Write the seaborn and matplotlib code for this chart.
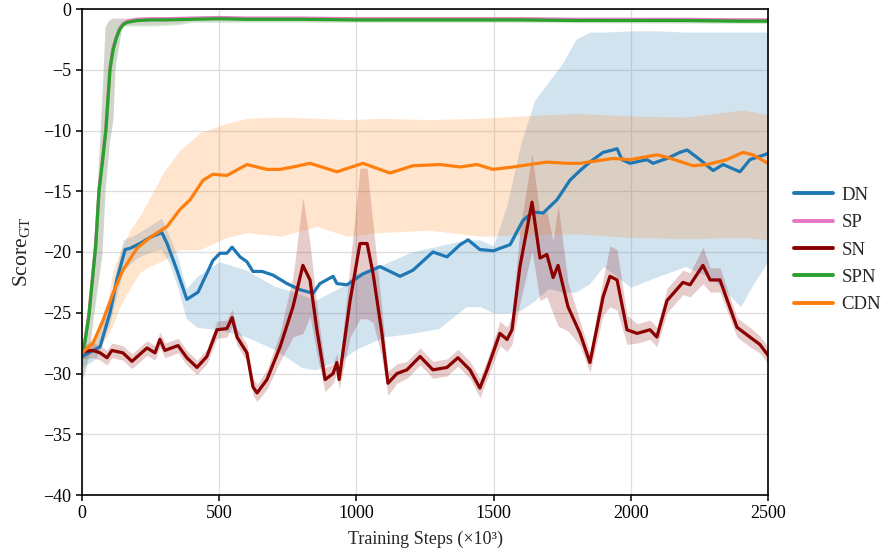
import numpy as np
import pandas as pd
import matplotlib
matplotlib.use("Agg")
import matplotlib.pyplot as plt
import seaborn as sns

# ---------------- data ----------------
series_names = ["DN", "SP", "SN", "SPN", "CDN"]

dn_x = [0, 66, 102, 127, 157, 175, 211, 248, 291, 310, 346, 382, 423, 477, 503, 528, 547, 576,
        601, 623, 656, 696, 747, 794, 842, 867, 915, 929, 966, 1024, 1086, 1159, 1206, 1279,
        1330, 1378, 1407, 1450, 1500, 1523, 1560, 1607, 1644, 1680, 1717, 1731, 1778, 1815,
        1851, 1899, 1935, 1950, 1968, 1997, 2059, 2081, 2132, 2179, 2205, 2252, 2300, 2336,
        2398, 2434, 2500]
dn_y = [-28.6, -27.8, -25.0, -22.3, -19.8, -19.7, -19.3, -18.8, -18.4, -19.3, -21.5, -23.9,
        -23.3, -20.7, -20.1, -20.1, -19.6, -20.4, -20.8, -21.6, -21.6, -21.9, -22.6, -23.1,
        -23.4, -22.6, -22.0, -22.6, -22.7, -21.8, -21.2, -22.0, -21.5, -20.0, -20.4, -19.4,
        -19.0, -19.8, -19.9, -19.7, -19.4, -17.4, -16.7, -16.8, -16.0, -15.7, -14.1, -13.3,
        -12.6, -11.8, -11.6, -11.5, -12.4, -12.7, -12.4, -12.7, -12.3, -11.8, -11.6, -12.4,
        -13.3, -12.8, -13.4, -12.4, -11.9]
dn_band_x = [0, 50, 100, 150, 200, 250, 290, 320, 350, 380, 420, 500, 600, 700, 800, 850, 950,
             1000, 1100, 1200, 1300, 1400, 1450, 1500, 1550, 1600, 1650, 1700, 1750, 1800, 1850,
             1900, 2000, 2100, 2200, 2300, 2400, 2450, 2500]
dn_lo = [-29.5, -28.8, -26.0, -21.5, -20.5, -20.0, -19.8, -21.0, -23.0, -25.5, -26.2, -26.4,
         -27.0, -28.0, -29.5, -29.7, -28.8, -28.0, -27.0, -26.7, -26.3, -24.5, -24.5, -25.0,
         -25.0, -24.8, -24.0, -23.0, -23.3, -23.3, -22.6, -21.2, -22.9, -22.0, -21.2, -22.2,
         -24.5, -22.5, -20.8]
dn_hi = [-28.0, -27.0, -24.0, -19.0, -18.5, -17.8, -17.2, -18.8, -20.5, -23.0, -22.0, -20.8,
         -21.5, -22.8, -23.5, -24.0, -22.8, -21.8, -21.0, -20.0, -19.5, -19.0, -19.0, -19.5,
         -16.0, -11.0, -7.5, -6.0, -4.5, -2.5, -1.9, -1.9, -1.8, -1.8, -1.9, -1.9, -1.9, -1.9,
         -1.9]

spn_x = [0, 10, 25, 50, 62, 75, 87, 102, 113, 125, 137, 150, 165, 200, 250, 300, 400, 500, 600,
         700, 800, 1000, 1200, 1400, 1600, 1800, 2000, 2200, 2400, 2500]
spn_y = [-28.3, -27.5, -25.3, -19.5, -15.0, -12.5, -10.0, -5.0, -3.4, -2.4, -1.7, -1.3, -1.1,
         -0.95, -0.9, -0.9, -0.85, -0.8, -0.85, -0.85, -0.85, -0.9, -0.9, -0.9, -0.9, -0.95,
         -0.95, -0.95, -1.0, -1.0]
spn_band_x = [0, 10, 25, 40, 50, 62, 73, 84, 100, 113, 120, 131, 146, 175, 250, 350, 400, 1000,
              1500, 2000, 2500]
spn_lo = [-30.5, -30.0, -28.5, -25.6, -24.0, -22.0, -20.1, -15.0, -11.0, -9.1, -5.0, -3.4,
          -1.4, -1.4, -1.4, -1.3, -1.1, -1.1, -1.1, -1.15, -1.2]
spn_hi = [-27.5, -26.5, -24.0, -20.0, -17.0, -12.0, -7.0, -1.5, -0.9, -0.8, -0.8, -0.8, -0.8,
          -0.8, -0.75, -0.75, -0.7, -0.7, -0.75, -0.8, -0.8]

sp_x = [0, 10, 25, 50, 62, 75, 87, 102, 113, 125, 137, 150, 165, 200, 250, 300, 400, 500, 600,
        700, 800, 1000, 1200, 1400, 1600, 1800, 2000, 2200, 2400, 2500]
sp_y = [-28.2, -27.4, -25.1, -19.3, -14.8, -12.3, -9.8, -4.8, -3.2, -2.3, -1.6, -1.2, -1.0,
        -0.85, -0.8, -0.8, -0.75, -0.7, -0.75, -0.75, -0.75, -0.8, -0.8, -0.8, -0.8, -0.85,
        -0.85, -0.85, -0.9, -0.9]
sp_band_x = [0, 10, 25, 40, 50, 62, 73, 84, 100, 113, 120, 131, 146, 175, 250, 350, 400, 1000,
             1500, 2000, 2500]
sp_lo = [-30.3, -29.8, -28.3, -25.4, -23.8, -21.8, -19.9, -14.8, -10.8, -8.9, -4.8, -3.2,
         -1.3, -1.3, -1.3, -1.2, -1.0, -1.0, -1.0, -1.05, -1.1]
sp_hi = [-27.4, -26.4, -23.9, -19.9, -16.9, -11.9, -6.9, -1.4, -0.8, -0.7, -0.7, -0.7, -0.7,
         -0.7, -0.65, -0.65, -0.6, -0.6, -0.65, -0.7, -0.7]

sn_x = [0, 40, 66, 91, 109, 149, 182, 237, 266, 284, 302, 350, 382, 419, 455, 492, 528, 547,
        565, 601, 623, 638, 674, 722, 769, 805, 831, 856, 886, 915, 929, 937, 977, 1013, 1039,
        1061, 1093, 1115, 1148, 1184, 1232, 1279, 1330, 1370, 1414, 1450, 1476, 1523, 1549,
        1567, 1596, 1640, 1669, 1694, 1717, 1735, 1771, 1815, 1851, 1899, 1924, 1950, 1986,
        2023, 2070, 2095, 2132, 2190, 2216, 2263, 2289, 2325, 2387, 2434, 2470, 2500]
sn_y = [-28.2, -28.1, -28.3, -28.7, -28.1, -28.3, -29.0, -27.9, -28.3, -27.2, -28.1, -27.7,
        -28.7, -29.5, -28.6, -26.4, -26.3, -25.4, -27.0, -28.3, -31.1, -31.6, -30.5, -27.8,
        -24.5, -21.1, -22.3, -26.4, -30.5, -30.0, -29.1, -30.5, -24.0, -19.3, -19.3, -21.8,
        -26.7, -30.8, -30.0, -29.7, -28.6, -29.7, -29.5, -28.7, -29.7, -31.2, -29.7, -26.7,
        -27.2, -26.4, -21.2, -15.9, -20.5, -20.2, -22.1, -21.1, -24.5, -26.7, -29.1, -23.7,
        -22.0, -22.3, -26.4, -26.7, -26.4, -27.0, -24.0, -22.5, -22.7, -21.1, -22.3, -22.3,
        -26.2, -27.0, -27.6, -28.5]
sn_spread = [0.6, 0.6, 0.6, 0.6, 0.6, 0.6, 0.6, 0.6, 0.6, 0.6, 0.6, 0.6,
             0.6, 0.6, 0.6, 0.7, 0.7, 0.7, 0.7, 0.7, 0.7, 0.7, 0.8, 1.2,
             2.5, 5.6, 3.0, 2.0, 1.0, 0.8, 0.8, 0.8, 3.0, 6.2, 6.2, 4.0,
             2.0, 1.0, 0.8, 0.7, 0.7, 0.7, 0.7, 0.7, 0.7, 0.8, 0.8, 1.0,
             1.0, 1.2, 3.0, 4.0, 3.5, 3.5, 3.0, 5.0, 2.0, 1.0, 0.8, 1.5,
             2.5, 2.5, 1.2, 0.8, 0.8, 0.8, 1.0, 1.0, 1.0, 1.5, 1.0, 1.0,
             0.8, 0.8, 0.7, 0.7]

cdn_x = [0, 40, 77, 113, 149, 200, 248, 310, 357, 394, 441, 477, 528, 601, 674, 722, 769, 831,
         929, 1024, 1122, 1206, 1305, 1378, 1440, 1498, 1571, 1694, 1767, 1815, 1936, 1997,
         2095, 2132, 2227, 2278, 2350, 2409, 2445, 2500]
cdn_y = [-28.3, -27.5, -25.6, -23.4, -21.5, -19.7, -18.8, -17.9, -16.5, -15.7, -14.1, -13.6,
         -13.7, -12.8, -13.2, -13.2, -13.0, -12.7, -13.4, -12.7, -13.5, -12.9, -12.8, -13.0,
         -12.8, -13.2, -13.0, -12.6, -12.7, -12.7, -12.3, -12.4, -12.0, -12.2, -12.9, -12.8,
         -12.4, -11.8, -12.0, -12.7]
cdn_band_x = [0, 50, 91, 113, 138, 175, 211, 237, 295, 357, 430, 528, 601, 722, 856, 966, 1086,
              1268, 1450, 1600, 1800, 2000, 2200, 2409, 2500]
cdn_hi = [-28.0, -26.8, -24.5, -21.5, -20.0, -18.2, -17.0, -16.0, -13.5, -11.6, -10.2, -9.4,
          -9.0, -8.9, -9.0, -9.1, -9.0, -9.1, -9.0, -8.8, -8.6, -8.8, -8.9, -8.3, -8.7]
cdn_lo = [-28.6, -28.3, -27.0, -26.0, -24.5, -23.0, -21.7, -21.3, -20.7, -19.8, -19.8, -18.8,
          -18.4, -18.7, -17.9, -18.7, -18.4, -18.2, -18.7, -18.6, -18.5, -18.8, -18.9, -18.8,
          -19.0]

x_ticks = [0, 500, 1000, 1500, 2000, 2500]
y_ticks = [-40, -35, -30, -25, -20, -15, -10, -5, 0]

colors = {"DN": "#1f77b4", "SP": "#e377c2", "SN": "#8b0000", "SPN": "#2ca02c", "CDN": "#ff7f0e"}

# ---------------- style ----------------
sns.set_style("ticks")
plt.rcParams["font.family"] = ["Liberation Serif", "DejaVu Serif"]
plt.rcParams["mathtext.fontset"] = "custom"
plt.rcParams["mathtext.rm"] = "Liberation Serif"
plt.rcParams["mathtext.it"] = "Liberation Serif:italic"

fig = plt.figure(figsize=(8.83, 5.6), dpi=100)
ax = fig.add_axes([82 / 883, 1 - 495 / 560, 686 / 883, 486 / 560])

# bands
band_alpha = 0.2
ax.fill_between(dn_band_x, dn_lo, dn_hi, color=colors["DN"], alpha=band_alpha, lw=0)
ax.fill_between(sp_band_x, sp_lo, sp_hi, color=colors["SP"], alpha=band_alpha, lw=0)
sn_lo = [y - s for y, s in zip(sn_y, sn_spread)]
sn_hi = [y + s for y, s in zip(sn_y, sn_spread)]
ax.fill_between(sn_x, sn_lo, sn_hi, color=colors["SN"], alpha=band_alpha, lw=0)
ax.fill_between(spn_band_x, spn_lo, spn_hi, color=colors["SPN"], alpha=band_alpha, lw=0)
ax.fill_between(cdn_band_x, cdn_lo, cdn_hi, color=colors["CDN"], alpha=band_alpha, lw=0)

# lines
line_data = {"DN": (dn_x, dn_y), "SP": (sp_x, sp_y), "SN": (sn_x, sn_y),
             "SPN": (spn_x, spn_y), "CDN": (cdn_x, cdn_y)}
for name in series_names:
    xs, ys = line_data[name]
    df = pd.DataFrame({"step": xs, "score": ys})
    sns.lineplot(data=df, x="step", y="score", ax=ax, color=colors[name], lw=2.3,
                 label=name, estimator=None, sort=False)

ax.set_xlim(0, 2500)
ax.set_ylim(-40, 0)
ax.set_xticks(x_ticks)
ax.set_yticks(y_ticks)
ax.grid(True, color="#dedede", lw=0.9)
ax.set_axisbelow(True)
for sp in ax.spines.values():
    sp.set_color("black")
    sp.set_linewidth(1.2)
ax.tick_params(axis="both", direction="out", length=4, width=1.1, labelsize=13, colors="black")
ax.set_xlabel("Training Steps (×10³)", fontsize=13, labelpad=6)
ax.set_ylabel(r"Score$_{\mathrm{GT}}$", fontsize=15.5, labelpad=8)

leg = ax.legend(loc="center left", bbox_to_anchor=(786 / 883, 1 - 250 / 560),
                bbox_transform=fig.transFigure, frameon=False, fontsize=13.5,
                handlelength=2.1, handletextpad=0.45, labelspacing=0.55, borderaxespad=0)
for line in leg.get_lines():
    line.set_linewidth(2.8)

fig.savefig("out.png", dpi=100)
